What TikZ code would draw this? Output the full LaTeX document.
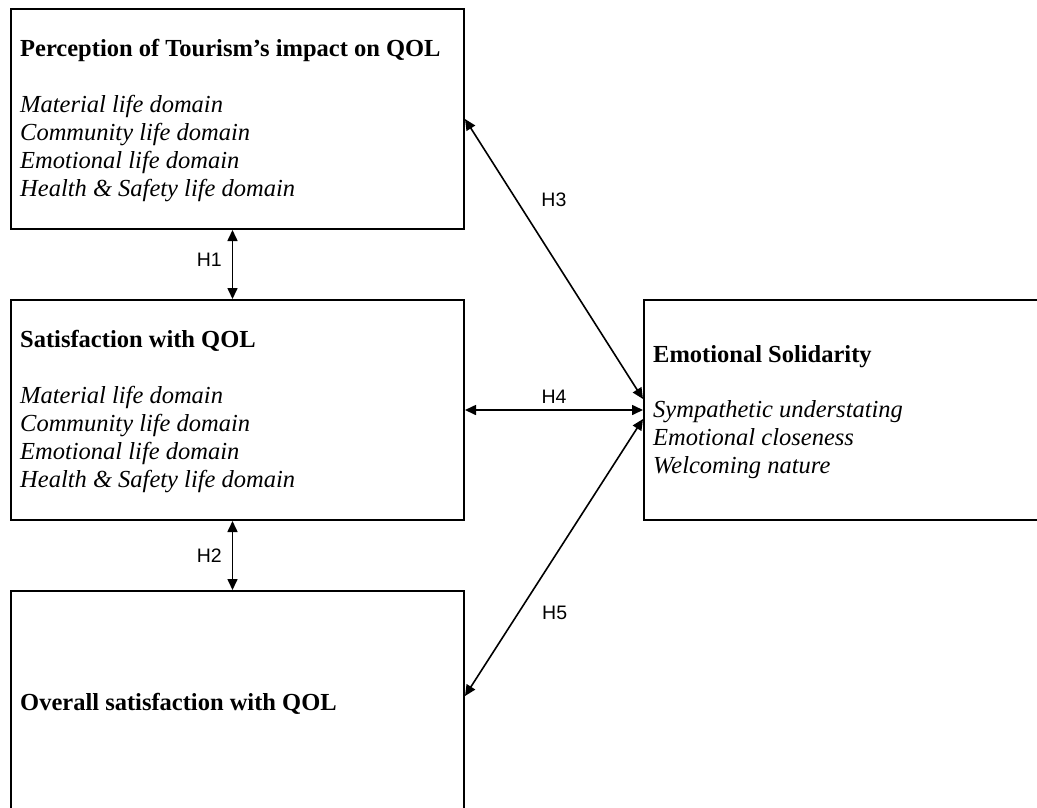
\documentclass[tikz,border=0pt]{standalone}
\usepackage{fontspec}
\setmainfont{Liberation Serif}
\newfontfamily\hfont{Liberation Sans}
\usetikzlibrary{positioning,arrows.meta}

\begin{document}
\begin{tikzpicture}[
		box/.style={draw, line width=2pt, minimum width=453pt, minimum height=220pt, inner sep=0pt},
		head/.style={anchor=base west, inner sep=0pt, font=\bfseries\fontsize{24.5}{28}\selectfont},
		item/.style={anchor=base west, inner sep=0pt, font=\itshape\fontsize{24.5}{28}\selectfont},
		hyp/.style={{Triangle[length=11pt,width=10pt]}-{Triangle[length=11pt,width=10pt]}, line width=1.6pt},
		hlab/.style={font=\hfont\fontsize{19.5}{22}\selectfont, inner sep=0pt}]
		\clip (0,0) rectangle (1037pt,-807pt);

		% the four blocks
		\node[box, anchor=north west] (pt) at (10pt,-8pt) {};
		\node[box, below=69pt of pt] (sa) {};
		\node[box, below=69pt of sa] (ov) {};
		\node[box, right=178pt of sa] (es) {};

		% headings
		\node[head] (ptH) at ([xshift=10pt,yshift=-48pt]pt.north west) {Perception of Tourism's impact on QOL};
		\node[head] (saH) at ([xshift=10pt,yshift=-48pt]sa.north west) {Satisfaction with QOL};
		\node[head] (ovH) at ([xshift=10pt,yshift=-120pt]ov.north west) {Overall satisfaction with QOL};
		\node[head] (esH) at ([xshift=10pt,yshift=-63pt]es.north west) {Emotional Solidarity};

		% life domains
		\foreach \b in {pt,sa}{
			\foreach \t [count=\i from 0] in {Material life domain, Community life domain,
					Emotional life domain, Health \& Safety life domain}
				\node[item] (\b\i) at ([xshift=10pt,yshift={-104pt-28pt*\i}]\b.north west) {\t};
		}
		\foreach \t [count=\i from 0] in {Sympathetic understating, Emotional closeness, Welcoming nature}
			\node[item] (es\i) at ([xshift=10pt,yshift={-118pt-28pt*\i}]es.north west) {\t};

		% hypotheses
		\draw[hyp] ([xshift=-5pt]pt.south) -- node[hlab, left=10pt, yshift=5pt] (h1) {H1} ([xshift=-5pt]sa.north);
		\draw[hyp] ([xshift=-5pt]sa.south) -- node[hlab, left=10pt] (h2) {H2} ([xshift=-5pt]ov.north);
		\draw[hyp] (pt.east) -- node[hlab, pos=0.29, right=24pt] (h3) {H3} ([yshift=11pt]es.west);
		\draw[hyp] (sa.east) -- node[hlab, above=6pt] (h4) {H4} (es.west);
		\draw[hyp] ([yshift=-9pt]es.west) -- node[hlab, pos=0.7, right=23pt] (h5) {H5} ([yshift=5pt]ov.east);

\end{tikzpicture}
\end{document}
